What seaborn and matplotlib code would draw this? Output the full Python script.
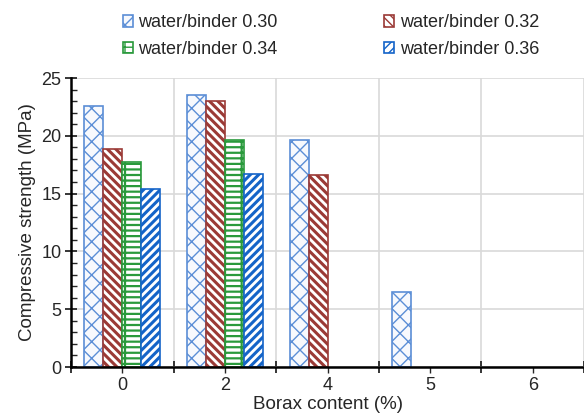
import numpy as np
import pandas as pd
import matplotlib
matplotlib.use("Agg")
import matplotlib.pyplot as plt
from matplotlib.patches import Patch
import seaborn as sns

borax = ["0", "2", "4", "5", "6"]
wb_030 = [22.6, 23.5, 19.6, 6.5, np.nan]
wb_032 = [18.9, 23.0, 16.6, np.nan, np.nan]
wb_034 = [17.7, 19.6, np.nan, np.nan, np.nan]
wb_036 = [15.4, 16.7, np.nan, np.nan, np.nan]
series_names = ["water/binder 0.30", "water/binder 0.32",
                "water/binder 0.34", "water/binder 0.36"]

rows = []
for name, vals in zip(series_names, [wb_030, wb_032, wb_034, wb_036]):
    for b, v in zip(borax, vals):
        rows.append({"borax": b, "series": name, "strength": v})
df = pd.DataFrame(rows)

sns.set_style("white")
plt.rcParams["font.family"] = ["Liberation Sans", "DejaVu Sans"]

# edge colour, hatch, face colour, hatch line width per series
styles = [
    ("#5b8ed6", "xx", "#f7f9fd", 1.0),
    ("#9b3a36", "\\\\\\\\", "white", 2.2),
    ("#2a9a3c", "---|", "white", 1.6),
    ("#1464c8", "////", "white", 2.2),
]

fig = plt.figure(figsize=(5.84, 4.19), dpi=100)
ax = fig.add_axes([0.1216, 0.1241, 0.8784, 0.6897])

sns.barplot(data=df, x="borax", y="strength", hue="series", order=borax,
            hue_order=series_names, width=0.74, legend=False, ax=ax,
            errorbar=None)


def style_patch(p, ec, hatch, fc, hlw):
    p.set_facecolor(fc)
    p.set_edgecolor(ec)
    p.set_hatch(hatch)
    p.set_linewidth(1.2)
    if hasattr(p, "set_hatch_linewidth"):
        p.set_hatch_linewidth(hlw)
    else:
        p._hatch_linewidth = hlw


for cont, st in zip(ax.containers, styles):
    for p in cont:
        style_patch(p, *st)

ax.set_xlim(-0.5, 4.5)
ax.set_ylim(0, 25)
ax.set_yticks(np.arange(0, 26, 5))
ax.set_yticks(np.arange(0, 26, 1), minor=True)
ax.set_xticks(np.arange(len(borax)))
ax.set_xticklabels(borax)
ax.set_xticks(np.arange(len(borax) + 1) - 0.5, minor=True)

ax.grid(True, which="major", axis="y", color="#d9d9d9", lw=1.2)
ax.grid(True, which="minor", axis="x", color="#d9d9d9", lw=1.2)
ax.set_axisbelow(True)

for s in ["top", "right"]:
    ax.spines[s].set_visible(False)
for s in ["left", "bottom"]:
    ax.spines[s].set_linewidth(1.8)
    ax.spines[s].set_color("black")

ax.tick_params(axis="y", which="major", direction="inout", length=8, width=1.3,
               labelsize=13, pad=3, left=True)
ax.tick_params(axis="y", which="minor", direction="in", length=4, width=1.0, left=True)
ax.tick_params(axis="x", which="major", direction="out", length=4, width=1.0,
               labelsize=13, bottom=True)
ax.tick_params(axis="x", which="minor", direction="inout", length=9, width=1.3, bottom=True)

ax.set_xlabel("Borax content (%)", fontsize=13.5, labelpad=1)
ax.set_ylabel("Compressive strength (MPa)", fontsize=13.5, labelpad=4)

handles = []
for ec, h, fc, hlw in styles:
    hp = Patch(facecolor=fc, edgecolor=ec, hatch=h, linewidth=1.2)
    style_patch(hp, ec, h, fc, hlw)
    handles.append(hp)
# legend is filled column-wise; order so rows read 0.30/0.32, 0.34/0.36
order = [0, 2, 1, 3]
fig.legend([handles[i] for i in order], [series_names[i] for i in order],
           loc="upper left", bbox_to_anchor=(0.183, 1.005),
           ncol=2, frameon=False, fontsize=13, handlelength=0.55, handleheight=0.6,
           handletextpad=0.3, columnspacing=5.9, labelspacing=0.55)

fig.savefig("out.png", dpi=100)
